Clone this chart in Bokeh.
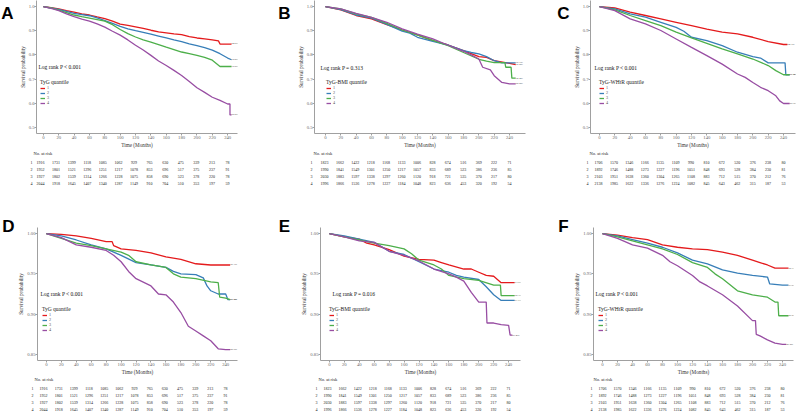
from bokeh.plotting import figure
from bokeh.layouts import row, column
from bokeh.models import Range1d, FixedTicker, Label, Legend, LegendItem, PrintfTickFormatter
from bokeh.embed import file_html
from bokeh.resources import INLINE
from bokeh.core.properties import value

SERIF = "Liberation Serif"
SANS = "Liberation Sans"
COLORS = ["#E41A1C", "#377EB8", "#4DAF4A", "#984EA3"]
GROUPS = ["1", "2", "3", "4"]
RISK_TIMES = [0, 20, 40, 60, 80, 100, 120, 140, 160, 180, 200, 220, 240]
YTICKS_TOP = [0.5, 0.6, 0.7, 0.8, 0.9, 1.0]
YTICKS_BOT = [0.85, 0.90, 0.95, 1.00]

# ---------------- Panel A (TyG, outcome 1) ----------------
A1_t = [0, 10, 20, 30, 40, 50, 60, 70, 80, 90, 100, 110, 120, 130, 140, 150, 160, 170, 180, 190, 200, 210, 220, 228, 230, 245]
A1_s = [1.0, 0.995, 0.99, 0.983, 0.977, 0.97, 0.965, 0.957, 0.95, 0.94, 0.927, 0.922, 0.916, 0.91, 0.902, 0.895, 0.891, 0.887, 0.884, 0.876, 0.870, 0.866, 0.862, 0.858, 0.845, 0.845]
A2_t = [0, 10, 20, 30, 40, 50, 60, 70, 80, 90, 100, 110, 120, 130, 140, 150, 160, 170, 180, 190, 200, 210, 220, 230, 240, 245]
A2_s = [1.0, 0.994, 0.988, 0.98, 0.972, 0.967, 0.962, 0.953, 0.942, 0.93, 0.918, 0.908, 0.90, 0.893, 0.886, 0.878, 0.870, 0.862, 0.855, 0.846, 0.838, 0.83, 0.82, 0.805, 0.787, 0.78]
A3_t = [0, 10, 20, 30, 40, 50, 60, 70, 80, 90, 100, 110, 120, 130, 140, 150, 160, 170, 180, 190, 200, 210, 220, 230, 245]
A3_s = [1.0, 0.994, 0.985, 0.975, 0.965, 0.958, 0.952, 0.946, 0.94, 0.925, 0.905, 0.888, 0.874, 0.862, 0.853, 0.843, 0.832, 0.822, 0.812, 0.805, 0.798, 0.79, 0.778, 0.752, 0.752]
A4_t = [0, 10, 20, 30, 40, 50, 60, 70, 80, 90, 100, 110, 120, 130, 140, 150, 160, 170, 180, 190, 200, 210, 220, 230, 240, 243, 243, 245]
A4_s = [1.0, 0.992, 0.983, 0.97, 0.958, 0.948, 0.94, 0.928, 0.915, 0.898, 0.882, 0.862, 0.84, 0.82, 0.798, 0.775, 0.756, 0.736, 0.715, 0.69, 0.664, 0.645, 0.625, 0.612, 0.597, 0.597, 0.552, 0.552]

# ---------------- Panel B (TyG-BMI, outcome 1) ----------------
B1_t = [0, 20, 40, 60, 80, 100, 120, 140, 160, 180, 200, 210, 220, 240, 248]
B1_s = [1.0, 0.986, 0.963, 0.949, 0.925, 0.903, 0.883, 0.859, 0.841, 0.818, 0.793, 0.79, 0.776, 0.765, 0.76]
B2_t = [0, 20, 40, 60, 80, 100, 110, 120, 140, 160, 180, 190, 200, 210, 220, 230, 248]
B2_s = [1.0, 0.987, 0.965, 0.952, 0.926, 0.898, 0.89, 0.873, 0.856, 0.841, 0.818, 0.81, 0.804, 0.793, 0.776, 0.767, 0.767]
B3_t = [0, 20, 40, 60, 80, 100, 120, 140, 160, 180, 200, 210, 220, 234, 235, 242, 243, 248]
B3_s = [1.0, 0.99, 0.97, 0.955, 0.93, 0.903, 0.882, 0.86, 0.838, 0.81, 0.782, 0.774, 0.768, 0.768, 0.749, 0.749, 0.704, 0.704]
B4_t = [0, 20, 40, 60, 80, 100, 120, 140, 160, 180, 190, 200, 205, 215, 220, 230, 240, 248]
B4_s = [1.0, 0.99, 0.972, 0.955, 0.935, 0.908, 0.886, 0.866, 0.84, 0.815, 0.80, 0.783, 0.749, 0.738, 0.714, 0.686, 0.68, 0.68]

# ---------------- Panel C (TyG-WHtR, outcome 1) ----------------
C1_t = [0, 20, 40, 60, 80, 100, 120, 140, 160, 180, 200, 220, 240, 245]
C1_s = [1.0, 0.994, 0.977, 0.963, 0.949, 0.935, 0.921, 0.907, 0.894, 0.887, 0.873, 0.855, 0.843, 0.843]
C2_t = [0, 20, 40, 60, 80, 100, 110, 120, 140, 160, 180, 200, 210, 220, 242, 243, 248]
C2_s = [1.0, 0.99, 0.970, 0.956, 0.935, 0.914, 0.898, 0.873, 0.859, 0.838, 0.811, 0.793, 0.787, 0.767, 0.767, 0.718, 0.718]
C3_t = [0, 20, 40, 60, 80, 100, 120, 140, 160, 180, 200, 220, 230, 240, 248]
C3_s = [1.0, 0.986, 0.963, 0.942, 0.921, 0.894, 0.870, 0.848, 0.825, 0.804, 0.783, 0.756, 0.735, 0.718, 0.718]
C4_t = [0, 20, 40, 60, 80, 100, 120, 140, 160, 180, 190, 200, 210, 220, 230, 235, 240, 248]
C4_s = [1.0, 0.983, 0.949, 0.928, 0.901, 0.866, 0.831, 0.797, 0.762, 0.721, 0.707, 0.686, 0.666, 0.652, 0.631, 0.61, 0.599, 0.599]

# ---------------- Panel D (TyG, outcome 2) ----------------
D1_t = [0, 20, 40, 60, 80, 88, 90, 100, 120, 140, 160, 180, 200, 220, 240, 246]
D1_s = [1.0, 0.999, 0.997, 0.994, 0.990, 0.990, 0.985, 0.981, 0.979, 0.976, 0.971, 0.968, 0.9625, 0.961, 0.961, 0.961]
D2_t = [0, 20, 40, 60, 80, 100, 120, 140, 160, 170, 180, 200, 210, 215, 220, 230, 240, 243, 246]
D2_s = [1.0, 0.997, 0.992, 0.986, 0.981, 0.973, 0.964, 0.961, 0.958, 0.953, 0.95, 0.949, 0.945, 0.935, 0.929, 0.925, 0.925, 0.918, 0.918]
D3_t = [0, 20, 40, 60, 80, 100, 110, 120, 140, 160, 170, 180, 200, 220, 230, 232, 240, 246]
D3_s = [1.0, 0.994, 0.988, 0.985, 0.981, 0.977, 0.973, 0.965, 0.961, 0.958, 0.95, 0.946, 0.944, 0.94, 0.939, 0.921, 0.92, 0.918]
D4_t = [0, 20, 40, 60, 80, 90, 100, 110, 120, 140, 150, 160, 170, 180, 190, 200, 210, 220, 230, 240, 246]
D4_s = [1.0, 0.995, 0.986, 0.983, 0.979, 0.973, 0.965, 0.953, 0.944, 0.935, 0.925, 0.924, 0.915, 0.902, 0.885, 0.879, 0.873, 0.867, 0.857, 0.856, 0.856]

# ---------------- Panel E (TyG-BMI, outcome 2) ----------------
E1_t = [0, 20, 40, 50, 60, 80, 100, 120, 140, 150, 160, 180, 190, 200, 210, 220, 230, 248]
E1_s = [1.0, 0.996, 0.993, 0.988, 0.986, 0.980, 0.972, 0.968, 0.967, 0.964, 0.961, 0.956, 0.956, 0.952, 0.948, 0.947, 0.939, 0.939]
E2_t = [0, 20, 40, 60, 80, 100, 120, 140, 160, 170, 180, 200, 210, 220, 230, 248]
E2_s = [1.0, 0.997, 0.993, 0.989, 0.978, 0.974, 0.965, 0.956, 0.952, 0.948, 0.946, 0.943, 0.934, 0.924, 0.917, 0.917]
E3_t = [0, 20, 40, 60, 80, 100, 110, 120, 140, 150, 160, 180, 200, 220, 229, 230, 248]
E3_s = [1.0, 0.996, 0.992, 0.988, 0.985, 0.981, 0.975, 0.967, 0.961, 0.956, 0.948, 0.944, 0.942, 0.936, 0.936, 0.923, 0.923]
E4_t = [0, 20, 40, 60, 80, 100, 120, 140, 160, 170, 180, 190, 200, 210, 211, 220, 230, 240, 242, 245]
E4_s = [1.0, 0.996, 0.991, 0.989, 0.978, 0.973, 0.966, 0.956, 0.950, 0.946, 0.941, 0.927, 0.915, 0.915, 0.889, 0.889, 0.887, 0.886, 0.874, 0.874]

# ---------------- Panel F (TyG-WHtR, outcome 2) ----------------
F1_t = [0, 20, 40, 60, 80, 100, 120, 140, 160, 180, 200, 210, 220, 230, 248]
F1_s = [1.0, 0.998, 0.995, 0.9925, 0.986, 0.983, 0.981, 0.980, 0.977, 0.973, 0.967, 0.964, 0.961, 0.957, 0.957]
F2_t = [0, 20, 40, 60, 80, 100, 120, 140, 160, 180, 200, 220, 223, 240, 248]
F2_s = [1.0, 0.997, 0.9925, 0.988, 0.983, 0.976, 0.967, 0.9625, 0.955, 0.951, 0.948, 0.946, 0.9375, 0.936, 0.936]
F3_t = [0, 20, 40, 60, 80, 100, 120, 140, 150, 160, 180, 200, 220, 230, 234, 235, 248]
F3_s = [1.0, 0.996, 0.991, 0.986, 0.981, 0.974, 0.964, 0.958, 0.95, 0.944, 0.929, 0.924, 0.921, 0.915, 0.915, 0.898, 0.898]
F4_t = [0, 20, 40, 60, 80, 90, 100, 120, 130, 140, 160, 180, 200, 204, 205, 210, 220, 230, 240, 245]
F4_s = [1.0, 0.994, 0.986, 0.982, 0.973, 0.965, 0.960, 0.948, 0.940, 0.935, 0.924, 0.910, 0.892, 0.892, 0.875, 0.873, 0.868, 0.864, 0.8625, 0.8625]

# ---------------- Numbers at risk ----------------
RISK_TYG = [
    [1916, 1731, 1399, 1118, 1085, 1062, 929, 765, 630, 475, 339, 213, 78],
    [1952, 1801, 1521, 1296, 1251, 1217, 1078, 853, 696, 517, 375, 237, 91],
    [1927, 1802, 1539, 1314, 1266, 1228, 1075, 858, 690, 523, 378, 220, 78],
    [2044, 1918, 1645, 1407, 1340, 1287, 1149, 910, 704, 510, 353, 197, 59],
]
RISK_BMI = [
    [1823, 1662, 1422, 1218, 1168, 1133, 1006, 828, 674, 516, 369, 222, 71],
    [1990, 1841, 1549, 1301, 1250, 1217, 1057, 833, 689, 523, 386, 236, 85],
    [2030, 1883, 1597, 1338, 1297, 1260, 1120, 918, 721, 535, 370, 217, 80],
    [1996, 1866, 1536, 1278, 1227, 1184, 1048, 823, 636, 453, 320, 192, 54],
]
RISK_WHTR = [
    [1706, 1570, 1346, 1166, 1135, 1109, 990, 810, 672, 520, 376, 238, 80],
    [1892, 1746, 1488, 1273, 1227, 1196, 1051, 848, 693, 528, 384, 230, 81],
    [2103, 1951, 1638, 1360, 1304, 1265, 1108, 883, 712, 515, 370, 212, 76],
    [2138, 1985, 1622, 1336, 1276, 1224, 1082, 845, 643, 462, 315, 187, 53],
]

FRAME_H = 133
BOTTOM_B = 17
AXIS_COLOR = "#a0a0a0"
TXT = dict(text_font=value(SERIF), text_baseline="middle", text_color="#222222")


def no_align(f):
    # keep each figure's frame where its own borders put it (no cross-plot frame alignment)
    if "frame_align" in f.properties():
        f.frame_align = False
    return f


def bare_figure(w, h, xr, yr):
    f = figure(width=w, height=h, title=None, x_range=Range1d(*xr), y_range=Range1d(*yr),
               x_axis_location=None, y_axis_location=None,
               output_backend="svg", toolbar_location=None,
               min_border_left=0, min_border_right=0, min_border_top=0, min_border_bottom=0)
    f.outline_line_color = None
    f.xgrid.visible = False
    f.ygrid.visible = False
    return no_align(f)


def make_panel(letter, curves, risk, leg_title, ptext, yr, yticks, yfmt, xr,
               W, WL, L, FW, top_b, table_h, row0, letter_pos, lr_pos, leg_pos):
    H = top_b + FRAME_H + BOTTOM_B
    Lk = L - WL
    R = W - L - FW

    # panel letter, in its own narrow strip to the left of the plot (y measured downward)
    lf = bare_figure(WL, H, (0, WL), (H, 0))
    lf.text(x=[letter_pos[0]], y=[letter_pos[1]], text=[letter],
            text_font=value(SANS), text_font_size="17px", text_font_style="bold",
            text_color="black", text_baseline="middle", text_align="center")

    p = figure(width=W - WL, height=H, title=None,
               x_range=Range1d(*xr), y_range=Range1d(*yr),
               output_backend="svg", toolbar_location=None,
               min_border_left=Lk, min_border_right=R,
               min_border_top=top_b, min_border_bottom=BOTTOM_B)
    no_align(p)
    p.outline_line_color = None
    p.xgrid.visible = False
    p.ygrid.visible = False
    p.xaxis.ticker = FixedTicker(ticks=RISK_TIMES)
    p.yaxis.ticker = FixedTicker(ticks=yticks)
    p.yaxis.formatter = PrintfTickFormatter(format=yfmt)
    p.xaxis.axis_label = "Time (Months)"
    p.yaxis.axis_label = "Survival probability"
    for ax in (p.xaxis[0], p.yaxis[0]):
        ax.axis_line_color = AXIS_COLOR
        ax.axis_line_width = 1
        ax.major_tick_line_color = AXIS_COLOR
        ax.major_tick_out = 2
        ax.major_tick_in = 0
        ax.minor_tick_line_color = None
        ax.major_label_text_font = SERIF
        ax.major_label_text_font_size = "4.7px"
        ax.major_label_text_color = "#666666"
        ax.major_label_standoff = 0
        ax.axis_label_text_font = SERIF
        ax.axis_label_text_font_size = "5.2px"
        ax.axis_label_text_font_style = "normal"
        ax.axis_label_text_color = "#333333"
        ax.axis_label_standoff = 0

    items = []
    for (t, s), c, g in zip(curves, COLORS, GROUPS):
        r = p.line(t, s, line_color=c, line_width=1.3)
        items.append(LegendItem(label=g, renderers=[r]))
        p.text(x=[t[-1]], y=[s[-1]], text=[f"{s[-1] * 100:.1f}%"],
               text_font=value(SERIF), text_font_size="2.8px",
               text_baseline="middle", text_align="left", text_color="#444444")

    leg = Legend(items=items, location=leg_pos, title=leg_title)
    leg.title_text_font = SERIF
    leg.title_text_font_size = "5.5px"
    leg.title_text_font_style = "normal"
    leg.title_text_color = "#222222"
    leg.title_standoff = 0
    leg.label_text_font = SERIF
    leg.label_text_font_size = "4.2px"
    leg.label_text_color = "#555555"
    leg.label_height = 4
    leg.label_standoff = 2
    leg.glyph_width = 5
    leg.glyph_height = 4
    leg.spacing = 0
    leg.padding = 0
    leg.margin = 0
    leg.background_fill_alpha = 0
    leg.border_line_alpha = 0
    p.add_layout(leg)

    p.add_layout(Label(x=lr_pos[0], y=lr_pos[1], x_units="screen", y_units="screen",
                       text=ptext, text_font=SERIF, text_font_size="5.5px",
                       text_color="#111111", text_baseline="middle", text_align="left"))

    # numbers-at-risk table, same horizontal scale as the plot above
    s_px = FW / (xr[1] - xr[0])
    tx0 = xr[0] - L / s_px
    tx1 = tx0 + W / s_px
    drow = 7.0
    ytop = 1 - row0 / drow
    ybot = 1 + (table_h - row0) / drow
    q = bare_figure(W, table_h, (tx0, tx1), (ybot, ytop))
    q.text(x=[xr[0]], y=[1 - 9.0 / drow], text=["No. at risk"],
           text_font_size="4.5px", text_align="left", **TXT)
    for i, vals in enumerate(risk):
        q.text(x=[xr[0] - 2.0 / s_px], y=[i + 1], text=[GROUPS[i]],
               text_font_size="4px", text_align="center", **TXT)
        q.text(x=RISK_TIMES, y=[i + 1] * len(RISK_TIMES), text=[str(v) for v in vals],
               text_font_size="4px", text_align="center", **TXT)
    return column(row(lf, p, spacing=0), q, spacing=0)


TOP_Y = (0.475, 1.025)
BOT_Y = (0.8425, 1.0075)

pA = make_panel("A", [(A1_t, A1_s), (A2_t, A2_s), (A3_t, A3_s), (A4_t, A4_s)], RISK_TYG,
                "TyG quantile", "Log rank P < 0.001", TOP_Y, YTICKS_TOP, "%.1f", (-9, 252.8),
                268, 16, 33, 204, 0, 55, 12, (7, 12.5), (2, 67), (4, 28))
pB = make_panel("B", [(B1_t, B1_s), (B2_t, B2_s), (B3_t, B3_s), (B4_t, B4_s)], RISK_BMI,
                "TyG-BMI quantile", "Log rank P = 0.313", TOP_Y, YTICKS_TOP, "%.1f", (-14.3, 260.8),
                262, 26, 45, 212, 0, 55, 12, (16, 12.5), (6, 66), (12, 28))
pC = make_panel("C", [(C1_t, C1_s), (C2_t, C2_s), (C3_t, C3_s), (C4_t, C4_s)], RISK_WHTR,
                "TyG-WHtR quantile", "Log rank P < 0.001", TOP_Y, YTICKS_TOP, "%.1f", (-11.7, 255.6),
                270, 40, 59, 206, 0, 55, 12, (33, 12.5), (4, 66), (9, 28))
pD = make_panel("D", [(D1_t, D1_s), (D2_t, D2_s), (D3_t, D3_s), (D4_t, D4_s)], RISK_TYG,
                "TyG quantile", "Log rank P < 0.001", BOT_Y, YTICKS_BOT, "%.2f", (-11.9, 255.8),
                268, 15, 34, 203, 22, 35, 11, (8, 20.5), (3, 67), (5, 28))
pE = make_panel("E", [(E1_t, E1_s), (E2_t, E2_s), (E3_t, E3_s), (E4_t, E4_s)], RISK_BMI,
                "TyG-BMI quantile", "Log rank P = 0.016", BOT_Y, YTICKS_BOT, "%.2f", (-11.9, 255.9),
                262, 30, 50, 202, 22, 35, 11, (16, 20.5), (12, 67), (9, 28))
pF = make_panel("F", [(F1_t, F1_s), (F2_t, F2_s), (F3_t, F3_s), (F4_t, F4_s)], RISK_WHTR,
                "TyG-WHtR quantile", "Log rank P < 0.001", BOT_Y, YTICKS_BOT, "%.2f", (-12, 254.7),
                270, 40, 63, 200, 22, 35, 11, (33, 20.5), (2, 67), (5, 28))

layout = column(row(pA, pB, pC, spacing=0), row(pD, pE, pF, spacing=0), spacing=0)

open("out.html", "w").write(file_html(layout, INLINE))
